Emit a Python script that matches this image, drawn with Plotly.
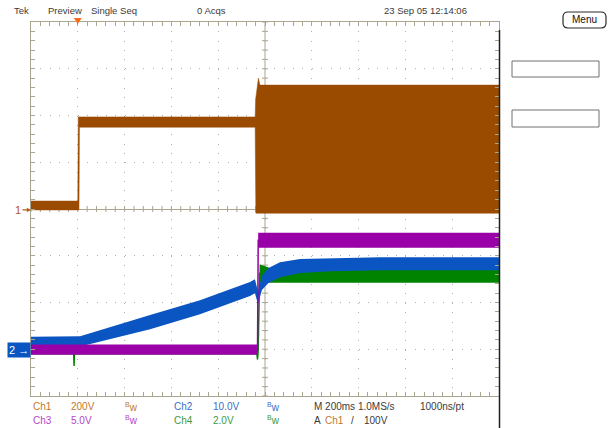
import plotly.graph_objects as go

# ---------------- data: time in ms (trigger = 0), amplitude in screen divisions ----------------
ch1_top_t = [-200, 0, 2, 758, 760, 766, 772, 778, 1800]
ch1_top_v = [0.17, 0.17, 1.97, 1.97, 2.35, 2.65, 2.80, 2.65, 2.65]
ch1_bot_t = [-200, 5, 7, 758, 761, 1800]
ch1_bot_v = [-0.02, -0.02, 1.75, 1.75, -0.09, -0.09]

ch2_t = [-200, 10, 309, 522, 736, 757, 770, 787, 813, 864, 950, 1078, 1292, 1800]
ch2_c = [-2.83, -2.83, -2.42, -2.10, -1.71, -1.65, -1.90, -1.58, -1.43, -1.30, -1.22, -1.19, -1.17, -1.17]
ch2_hw = [0.10, 0.11, 0.15, 0.15, 0.15, 0.15, 0.13, 0.15, 0.16, 0.16, 0.15, 0.14, 0.14, 0.14]

ch3_t = [-200, 768, 771, 1800]
ch3_c = [-3.01, -3.01, -0.67, -0.67]
ch3_hw = [0.11, 0.11, 0.16, 0.16]

ch4_t = [-200, -18, -16, -14, 764, 768, 771, 774, 777, 830, 1800]
ch4_c = [-3.01, -3.01, -3.36, -3.01, -3.01, -3.22, -3.01, -1.38, -1.38, -1.43, -1.43]
ch4_hw = [0.10, 0.10, 0.00, 0.10, 0.10, 0.02, 0.10, 0.20, 0.20, 0.15, 0.15]

ch1_ground = -0.02
ch2_ground = -3.02
trigger_time = 0

top_labels = ["Tek", "Preview", "Single Seq", "0 Acqs", "23 Sep 05 12:14:06"]
row1_labels = ["Ch1", "200V", "<sup>B</sup>w", "Ch2", "10.0V", "<sup>B</sup>w", "M 200ms 1.0MS/s", "1000ns/pt"]
row2_labels = ["Ch3", "5.0V", "<sup>B</sup>w", "Ch4", "2.0V", "<sup>B</sup>w", "A", "Ch1", "/", "100V"]

# ---------------- style ----------------
C1, C2, C3, C4 = "#9a4b00", "#0a55c2", "#9a00a8", "#008400"
T1, T2, T3, T4, TD = "#c0782f", "#3c6ec8", "#b446c8", "#3f983f", "#3a3a3a"
FRAME = "#aaa58e"
DOTS = "#b0b0b0"
FONT = "Liberation Sans, Arial, sans-serif"

W, H = 608, 428
L, R, TOP, BOT = 31, 499, 22, 396


def px(x):
    return (x - L) / (R - L)


def py(y):
    return (BOT - y) / (BOT - TOP)


fig = go.Figure()


def band(t, c, hw, color):
    xs = list(t) + list(t)[::-1]
    ys = [a + b for a, b in zip(c, hw)] + [a - b for a, b in zip(c, hw)][::-1]
    fig.add_trace(go.Scatter(x=xs, y=ys, fill="toself", fillcolor=color, mode="lines",
                             line=dict(width=0, color=color), hoverinfo="skip"))
    fig.add_trace(go.Scatter(x=t, y=c, mode="lines", line=dict(width=1.5, color=color), hoverinfo="skip"))


# Ch1 envelope
fig.add_trace(go.Scatter(x=ch1_top_t + ch1_bot_t[::-1], y=ch1_top_v + ch1_bot_v[::-1],
                         fill="toself", fillcolor=C1, mode="lines", line=dict(width=0.5, color=C1),
                         hoverinfo="skip"))
band(ch4_t, ch4_c, ch4_hw, C4)
band(ch2_t, ch2_c, ch2_hw, C2)
band(ch3_t, ch3_c, ch3_hw, C3)

axis_common = dict(showgrid=True, gridcolor=DOTS, gridwidth=1, griddash="1px,8.36px",
                   showline=True, linecolor=FRAME, linewidth=1, mirror="ticks",
                   ticks="inside", ticklen=4, tickcolor=FRAME, showticklabels=False,
                   fixedrange=True)
fig.update_xaxes(range=[-200, 1800], dtick=200, tick0=-200, zeroline=False,
                 minor=dict(dtick=40, tick0=-200, ticks="inside", ticklen=4, tickcolor=FRAME, showgrid=False),
                 **axis_common)
fig.update_yaxes(range=[-4, 4], dtick=1, tick0=-4, zeroline=True, zerolinecolor=FRAME, zerolinewidth=1,
                 minor=dict(dtick=0.2, tick0=-4, ticks="inside", ticklen=4, tickcolor=FRAME, showgrid=False),
                 **axis_common)

shapes = []
# centre vertical line
shapes.append(dict(type="line", xref="x", yref="paper", x0=800, x1=800, y0=0, y1=1,
                   line=dict(color=FRAME, width=1), layer="below"))
# minor ticks on the centre cross
for k in range(51):
    t = -200 + 40 * k
    shapes.append(dict(type="line", xref="x", yref="y", ysizemode="pixel", yanchor=0,
                       x0=t, x1=t, y0=-3, y1=3, line=dict(color=FRAME, width=1), layer="below"))
for k in range(41):
    v = -4 + 0.2 * k
    shapes.append(dict(type="line", xref="x", yref="y", xsizemode="pixel", xanchor=800,
                       x0=-3, x1=3, y0=v, y1=v, line=dict(color=FRAME, width=1), layer="below"))
# trigger position marker (small downward triangle on the top edge)
shapes.append(dict(type="path", xref="x", yref="paper", xsizemode="pixel", ysizemode="pixel",
                   xanchor=trigger_time, yanchor=1, path="M -4,4 L 4,4 L 0,-2 Z",
                   fillcolor="#ff6a1a", line=dict(width=0)))
# dark screen border on the right
shapes.append(dict(type="line", xref="paper", yref="paper", x0=px(499.5), x1=px(499.5), y0=py(30), y1=py(428),
                   line=dict(color="#1e1e1e", width=1.5)))
# side-panel boxes
for (y0, y1) in [(61, 77), (110, 127)]:
    shapes.append(dict(type="rect", xref="paper", yref="paper", x0=px(512), x1=px(599), y0=py(y0), y1=py(y1),
                       line=dict(color="#707070", width=1), fillcolor="white"))
# rounded Menu button
bx0, bx1, by0, by1, r = 563, 606, 12, 28, 5
path = (f"M {px(bx0 + r)},{py(by0)} L {px(bx1 - r)},{py(by0)} Q {px(bx1)},{py(by0)} {px(bx1)},{py(by0 + r)} "
        f"L {px(bx1)},{py(by1 - r)} Q {px(bx1)},{py(by1)} {px(bx1 - r)},{py(by1)} "
        f"L {px(bx0 + r)},{py(by1)} Q {px(bx0)},{py(by1)} {px(bx0)},{py(by1 - r)} "
        f"L {px(bx0)},{py(by0 + r)} Q {px(bx0)},{py(by0)} {px(bx0 + r)},{py(by0)} Z")
shapes.append(dict(type="path", xref="paper", yref="paper", path=path, line=dict(color="#2a2a2a", width=1.2)))

ann = []


def txt(s, x, y, color, size=10, anchor="left"):
    ann.append(dict(text=s, xref="paper", yref="paper", x=px(x), y=py(y), xanchor=anchor, yanchor="middle",
                    showarrow=False, font=dict(family=FONT, size=size, color=color)))


for s, x in zip(top_labels, [12, 46, 89, 195, 382]):
    txt(s, x, 10, TD, size=9.5)
txt("Menu", 584.5, 20, "#111111", size=10, anchor="center")

for s, x, c in zip(row1_labels, [31, 69, 123, 172, 211, 265, 312, 418], [T1, T1, T1, T2, T2, T2, TD, TD]):
    txt(s, x, 407, c)
for s, x, c in zip(row2_labels, [31, 69, 123, 172, 211, 265, 312, 323, 349, 362],
                   [T3, T3, T3, T4, T4, T4, TD, T1, TD, TD]):
    txt(s, x, 420, c)

# channel ground markers
ann.append(dict(text="1", xref="paper", yref="y", x=0, y=ch1_ground, ax=-13, ay=0, showarrow=True,
                arrowhead=2, arrowsize=0.7, arrowwidth=1.2, arrowcolor="#b85c10",
                font=dict(family=FONT, size=11, color="#b85c10")))
ann.append(dict(text="2 →", xref="paper", yref="y", x=0, y=ch2_ground, xanchor="right", yanchor="middle",
                showarrow=False, bgcolor=C2, borderpad=1,
                font=dict(family=FONT, size=11, color="white")))

fig.update_layout(width=W, height=H, margin=dict(l=L, r=W - R, t=TOP, b=H - BOT),
                  paper_bgcolor="white", plot_bgcolor="white", showlegend=False,
                  shapes=shapes, annotations=ann)

fig.write_html("out.html", config={"displayModeBar": False},
               post_script="document.body.style.margin='0';document.body.style.overflow='hidden';")
